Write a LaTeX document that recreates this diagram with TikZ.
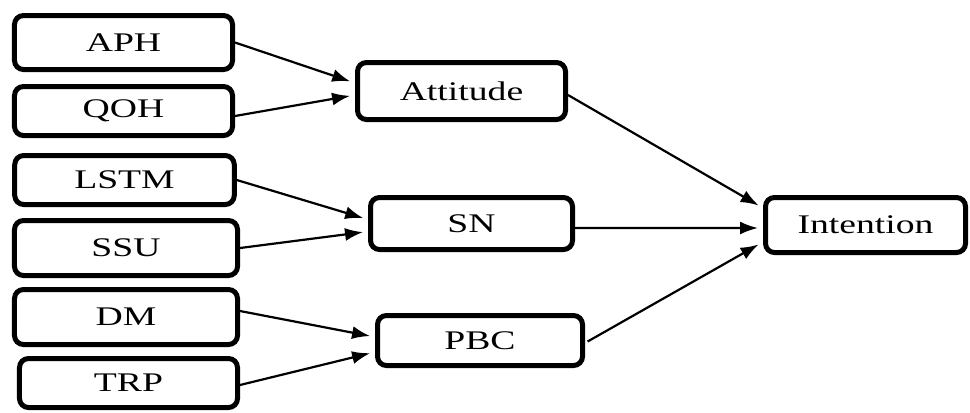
\documentclass[tikz,border=0pt]{standalone}
\usepackage{fontspec}
\usepackage{graphicx}
\setmainfont{Liberation Serif}
\usetikzlibrary{arrows.meta,calc}
\newcommand\wtxt[1]{\scalebox{1.4}[1]{#1}}
\tikzset{
  box/.style={draw, line width=5bp, rounded corners=9bp, inner sep=0pt,
    font=\fontsize{27}{30}\selectfont},
  arr/.style={line width=2.2bp, -{Latex[length=18bp,width=13bp]}, shorten >=5bp}
}
\begin{document}
\begin{tikzpicture}[x=1bp,y=-1bp]
\useasboundingbox (0,0) rectangle (970,412);
\node[box, minimum width=218bp, minimum height=54bp] (aph) at (123.5,42.5) {\wtxt{APH}};
\node[box, minimum width=218bp, minimum height=49bp] (qoh) at (123.5,111) {\wtxt{QOH}};
\node[box, minimum width=219.5bp, minimum height=49bp] (lstm) at (124.5,180) {\wtxt{LSTM}};
\node[box, minimum width=223bp, minimum height=55bp] (ssu) at (126,248) {\wtxt{SSU}};
\node[box, minimum width=223bp, minimum height=55bp] (dm) at (126,317) {\wtxt{DM}};
\node[box, minimum width=218bp, minimum height=49bp] (trp) at (128.5,383) {\wtxt{TRP}};
\node[box, minimum width=208bp, minimum height=57bp] (att) at (461.5,91) {\wtxt{Attitude}};
\node[box, minimum width=202bp, minimum height=52bp] (sn) at (471.5,223.5) {\wtxt{SN}};
\node[box, minimum width=205bp, minimum height=50bp] (pbc) at (480,340.5) {\wtxt{PBC}};
\node[box, minimum width=200bp, minimum height=55bp] (int) at (865.5,225) {\wtxt{Intention}};

\draw[arr] (aph.east) -- ($(att.west)+(0,-8)$);
\draw[arr] ($(qoh.east)+(0,5)$) -- ($(att.west)+(0,4)$);
\draw[arr] (lstm.east) -- ($(sn.west)+(0,-4)$);
\draw[arr] (ssu.east) -- ($(sn.west)+(0,8)$);
\draw[arr] ($(dm.east)+(0,-6)$) -- ($(pbc.west)+(0,-3.5)$);
\draw[arr] ($(trp.east)+(0,2)$) -- ($(pbc.west)+(0,11.5)$);
\draw[arr] ($(att.east)+(0,4)$) -- ($(int.west)+(0,-17)$);
\draw[arr] ($(sn.east)+(0,4.5)$) -- ($(int.west)+(0,3)$);
\draw[arr, shorten <=3bp] ($(pbc.east)+(0,2.5)$) -- ($(int.west)+(0,17)$);
\end{tikzpicture}
\end{document}
